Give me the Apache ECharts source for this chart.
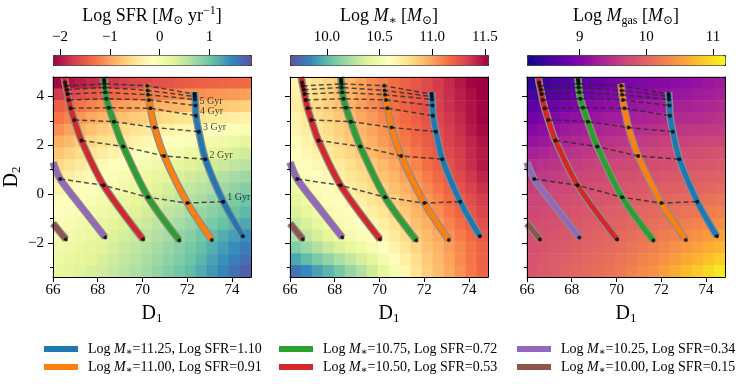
<!DOCTYPE html>
<html>
<head>
<meta charset="utf-8">
<title>tracks</title>
<script src="https://cdn.jsdelivr.net/npm/echarts@6/dist/echarts.min.js"></script>
<style>
  html, body { margin: 0; padding: 0; background: #fff; }
</style>
</head>
<body>
<div id="main" style="width:748px;height:384px;"></div>
<script>
// heatmap cell centres
var d1Cells = [66.25, 66.75, 67.25, 67.75, 68.25, 68.75, 69.25, 69.75, 70.25, 70.75, 71.25, 71.75, 72.25, 72.75, 73.25, 73.75, 74.25, 74.75];
var d2Cells = [-3.25, -2.75, -2.25, -1.75, -1.25, -0.75, -0.25, 0.25, 0.75, 1.25, 1.75, 2.25, 2.75, 3.25, 3.75, 4.25, 4.75];

// background fields, rows from top (D2 = 4.75) to bottom (D2 = -3.25)
var sfrMap = [
  [-2.09, -2.02, -1.95, -1.88, -1.82, -1.77, -1.72, -1.67, -1.63, -1.59, -1.55, -1.51, -1.48, -1.46, -1.43, -1.41, -1.39, -1.37],
  [-1.76, -1.68, -1.59, -1.51, -1.45, -1.40, -1.36, -1.31, -1.27, -1.24, -1.21, -1.18, -1.15, -1.13, -1.10, -1.08, -1.06, -1.04],
  [-1.48, -1.39, -1.30, -1.21, -1.14, -1.09, -1.04, -0.99, -0.95, -0.92, -0.89, -0.86, -0.83, -0.80, -0.77, -0.74, -0.72, -0.69],
  [-1.31, -1.20, -1.09, -0.98, -0.90, -0.84, -0.78, -0.72, -0.67, -0.62, -0.58, -0.53, -0.49, -0.46, -0.43, -0.40, -0.36, -0.33],
  [-1.13, -1.02, -0.91, -0.80, -0.71, -0.64, -0.57, -0.50, -0.44, -0.39, -0.34, -0.29, -0.24, -0.20, -0.16, -0.12, -0.08, -0.04],
  [-0.94, -0.84, -0.73, -0.63, -0.54, -0.47, -0.40, -0.33, -0.27, -0.22, -0.17, -0.12, -0.07, -0.02, 0.04, 0.09, 0.14, 0.19],
  [-0.76, -0.67, -0.57, -0.48, -0.39, -0.32, -0.25, -0.18, -0.11, -0.06, 0.00, 0.05, 0.11, 0.16, 0.22, 0.27, 0.33, 0.38],
  [-0.60, -0.51, -0.42, -0.33, -0.25, -0.18, -0.11, -0.04, 0.02, 0.08, 0.15, 0.21, 0.27, 0.33, 0.38, 0.44, 0.50, 0.56],
  [-0.44, -0.36, -0.28, -0.20, -0.13, -0.07, 0.00, 0.06, 0.12, 0.19, 0.25, 0.32, 0.38, 0.45, 0.52, 0.59, 0.65, 0.72],
  [-0.30, -0.24, -0.18, -0.12, -0.06, 0.00, 0.07, 0.13, 0.20, 0.27, 0.34, 0.41, 0.49, 0.56, 0.64, 0.71, 0.79, 0.86],
  [-0.19, -0.14, -0.09, -0.04, 0.02, 0.08, 0.15, 0.21, 0.28, 0.35, 0.43, 0.50, 0.58, 0.66, 0.75, 0.83, 0.91, 0.99],
  [-0.12, -0.07, -0.02, 0.03, 0.09, 0.15, 0.22, 0.28, 0.35, 0.42, 0.50, 0.57, 0.65, 0.74, 0.83, 0.92, 1.00, 1.09],
  [-0.06, -0.01, 0.05, 0.10, 0.16, 0.23, 0.29, 0.36, 0.43, 0.51, 0.58, 0.66, 0.75, 0.84, 0.94, 1.03, 1.13, 1.22],
  [0.00, 0.05, 0.10, 0.15, 0.22, 0.29, 0.36, 0.43, 0.50, 0.59, 0.67, 0.76, 0.85, 0.96, 1.07, 1.18, 1.28, 1.39],
  [0.06, 0.11, 0.16, 0.21, 0.27, 0.34, 0.42, 0.49, 0.57, 0.66, 0.75, 0.84, 0.94, 1.05, 1.17, 1.28, 1.40, 1.51],
  [0.11, 0.16, 0.21, 0.26, 0.33, 0.40, 0.47, 0.54, 0.63, 0.72, 0.81, 0.90, 1.00, 1.12, 1.25, 1.37, 1.49, 1.61],
  [0.17, 0.22, 0.28, 0.33, 0.39, 0.46, 0.53, 0.60, 0.68, 0.77, 0.87, 0.96, 1.07, 1.20, 1.33, 1.46, 1.58, 1.71]
];

var mstarMap = [
  [10.67, 10.72, 10.77, 10.82, 10.88, 10.94, 11.00, 11.06, 11.11, 11.15, 11.20, 11.24, 11.29, 11.35, 11.40, 11.46, 11.52, 11.53],
  [10.69, 10.74, 10.79, 10.84, 10.89, 10.95, 11.00, 11.06, 11.11, 11.15, 11.20, 11.24, 11.29, 11.34, 11.39, 11.44, 11.49, 11.53],
  [10.70, 10.75, 10.80, 10.85, 10.90, 10.95, 11.01, 11.06, 11.11, 11.15, 11.20, 11.24, 11.28, 11.33, 11.38, 11.43, 11.47, 11.52],
  [10.67, 10.72, 10.77, 10.82, 10.87, 10.92, 10.98, 11.03, 11.08, 11.12, 11.17, 11.21, 11.26, 11.31, 11.36, 11.41, 11.47, 11.52],
  [10.65, 10.70, 10.74, 10.79, 10.84, 10.89, 10.94, 10.99, 11.04, 11.09, 11.14, 11.19, 11.24, 11.29, 11.34, 11.39, 11.45, 11.50],
  [10.62, 10.67, 10.71, 10.76, 10.81, 10.86, 10.91, 10.96, 11.02, 11.07, 11.12, 11.17, 11.22, 11.27, 11.32, 11.37, 11.42, 11.47],
  [10.59, 10.63, 10.68, 10.72, 10.77, 10.82, 10.87, 10.92, 10.98, 11.03, 11.08, 11.13, 11.19, 11.24, 11.29, 11.34, 11.40, 11.45],
  [10.56, 10.60, 10.63, 10.67, 10.72, 10.77, 10.82, 10.87, 10.93, 10.98, 11.04, 11.09, 11.15, 11.21, 11.27, 11.33, 11.39, 11.45],
  [10.52, 10.56, 10.59, 10.63, 10.68, 10.73, 10.78, 10.83, 10.89, 10.94, 11.00, 11.05, 11.11, 11.17, 11.24, 11.30, 11.36, 11.42],
  [10.48, 10.52, 10.56, 10.60, 10.64, 10.69, 10.74, 10.79, 10.84, 10.90, 10.95, 11.01, 11.07, 11.13, 11.20, 11.26, 11.32, 11.38],
  [10.43, 10.47, 10.52, 10.56, 10.60, 10.65, 10.69, 10.74, 10.79, 10.85, 10.91, 10.97, 11.03, 11.09, 11.16, 11.22, 11.28, 11.34],
  [10.37, 10.42, 10.47, 10.52, 10.56, 10.60, 10.65, 10.69, 10.74, 10.81, 10.87, 10.94, 11.00, 11.06, 11.13, 11.19, 11.25, 11.31],
  [10.31, 10.36, 10.42, 10.47, 10.52, 10.56, 10.60, 10.64, 10.69, 10.76, 10.83, 10.90, 10.96, 11.02, 11.09, 11.15, 11.21, 11.27],
  [10.22, 10.29, 10.35, 10.42, 10.47, 10.51, 10.56, 10.60, 10.65, 10.72, 10.79, 10.86, 10.92, 10.98, 11.05, 11.11, 11.17, 11.23],
  [10.10, 10.17, 10.24, 10.31, 10.37, 10.42, 10.47, 10.52, 10.59, 10.67, 10.74, 10.82, 10.89, 10.95, 11.02, 11.08, 11.14, 11.20],
  [9.94, 10.01, 10.08, 10.15, 10.22, 10.29, 10.36, 10.43, 10.51, 10.60, 10.69, 10.78, 10.86, 10.93, 11.00, 11.07, 11.13, 11.20],
  [9.77, 9.84, 9.92, 9.99, 10.07, 10.16, 10.24, 10.33, 10.42, 10.53, 10.64, 10.75, 10.84, 10.91, 10.98, 11.05, 11.12, 11.19]
];

var mgasMap = [
  [8.37, 8.45, 8.54, 8.62, 8.69, 8.75, 8.81, 8.87, 8.92, 8.95, 8.98, 9.01, 9.04, 9.08, 9.11, 9.15, 9.19, 9.23],
  [8.53, 8.60, 8.68, 8.75, 8.82, 8.87, 8.93, 8.98, 9.03, 9.06, 9.09, 9.12, 9.15, 9.18, 9.21, 9.24, 9.28, 9.31],
  [8.70, 8.77, 8.84, 8.91, 8.97, 9.02, 9.07, 9.12, 9.15, 9.18, 9.21, 9.24, 9.26, 9.29, 9.31, 9.34, 9.36, 9.39],
  [8.86, 8.93, 9.00, 9.07, 9.12, 9.16, 9.21, 9.25, 9.28, 9.30, 9.33, 9.35, 9.37, 9.39, 9.41, 9.43, 9.45, 9.47],
  [9.02, 9.09, 9.15, 9.22, 9.27, 9.30, 9.34, 9.37, 9.40, 9.43, 9.45, 9.48, 9.50, 9.51, 9.53, 9.54, 9.56, 9.57],
  [9.16, 9.22, 9.29, 9.35, 9.40, 9.43, 9.46, 9.49, 9.52, 9.55, 9.58, 9.61, 9.63, 9.64, 9.66, 9.67, 9.69, 9.70],
  [9.30, 9.35, 9.41, 9.46, 9.51, 9.54, 9.57, 9.60, 9.62, 9.65, 9.67, 9.70, 9.72, 9.74, 9.76, 9.78, 9.80, 9.82],
  [9.42, 9.47, 9.51, 9.56, 9.60, 9.63, 9.66, 9.69, 9.71, 9.73, 9.75, 9.77, 9.79, 9.81, 9.83, 9.85, 9.87, 9.89],
  [9.52, 9.56, 9.60, 9.64, 9.67, 9.70, 9.73, 9.76, 9.78, 9.80, 9.82, 9.84, 9.86, 9.88, 9.91, 9.93, 9.95, 9.97],
  [9.61, 9.64, 9.68, 9.71, 9.74, 9.76, 9.79, 9.81, 9.83, 9.86, 9.88, 9.91, 9.93, 9.95, 9.98, 10.00, 10.02, 10.04],
  [9.67, 9.70, 9.73, 9.76, 9.79, 9.82, 9.84, 9.87, 9.89, 9.92, 9.94, 9.97, 10.00, 10.03, 10.06, 10.09, 10.12, 10.15],
  [9.71, 9.74, 9.77, 9.80, 9.83, 9.86, 9.89, 9.92, 9.95, 9.98, 10.01, 10.04, 10.07, 10.11, 10.14, 10.18, 10.22, 10.26],
  [9.75, 9.78, 9.81, 9.84, 9.87, 9.90, 9.93, 9.96, 9.99, 10.03, 10.06, 10.10, 10.14, 10.19, 10.24, 10.29, 10.33, 10.38],
  [9.78, 9.81, 9.84, 9.87, 9.90, 9.93, 9.97, 10.00, 10.04, 10.08, 10.13, 10.17, 10.22, 10.28, 10.35, 10.41, 10.47, 10.53],
  [9.81, 9.84, 9.87, 9.90, 9.94, 9.97, 10.01, 10.04, 10.09, 10.14, 10.19, 10.24, 10.31, 10.39, 10.46, 10.54, 10.62, 10.70],
  [9.83, 9.86, 9.90, 9.93, 9.97, 10.01, 10.05, 10.09, 10.14, 10.20, 10.27, 10.33, 10.41, 10.50, 10.60, 10.69, 10.79, 10.88],
  [9.85, 9.89, 9.92, 9.96, 10.00, 10.04, 10.09, 10.13, 10.19, 10.27, 10.34, 10.42, 10.52, 10.63, 10.74, 10.85, 10.96, 11.07]
];

// track positions at ages 0,1,2,... Gyr  [D1, D2]
var blueDots   = [[74.49, -1.73], [73.61, -0.31], [72.81, 1.43], [72.52, 2.56], [72.39, 3.21], [72.37, 3.63], [72.35, 3.88], [72.34, 4.00], [72.33, 4.10]];
var orangeDots = [[73.10, -1.88], [72.01, -0.37], [70.97, 1.56], [70.54, 2.73], [70.35, 3.52], [70.29, 3.86], [70.25, 4.07], [70.23, 4.25], [70.21, 4.44]];
var greenDots  = [[71.65, -1.90], [70.25, -0.13], [69.14, 1.95], [68.72, 2.97], [68.50, 3.54], [68.39, 3.91], [68.34, 4.17], [68.31, 4.37], [68.30, 4.52], [68.29, 4.62], [68.28, 4.71]];
var redDots    = [[70.03, -1.86], [68.26, 0.36], [67.27, 2.20], [66.95, 3.04], [66.79, 3.52], [66.70, 3.86], [66.65, 4.10], [66.61, 4.28], [66.57, 4.43], [66.54, 4.57]];
var purpleDots = [[68.34, -1.78], [66.32, 0.62]];
var brownDots  = [[66.58, -1.86]];

// where the tracks run on past their last dot (to the frame edge)
var blueTail   = [[72.33, 4.18]];
var orangeTail = [[70.19, 4.53]];
var greenTail  = [[68.27, 4.80]];
var redTail    = [[66.51, 4.80]];
var purpleMid  = [[67.35, -0.62]];
var purpleTail = [[66.00, 1.30]];
var brownTail  = [[66.00, -1.20]];

var trackNames = [
  'Log M*=11.25, Log SFR=1.10',
  'Log M*=11.00, Log SFR=0.91',
  'Log M*=10.75, Log SFR=0.72',
  'Log M*=10.50, Log SFR=0.53',
  'Log M*=10.25, Log SFR=0.34',
  'Log M*=10.00, Log SFR=0.15'
];
var trackColors = ['#1f77b4', '#ff7f0e', '#2ca02c', '#d62728', '#9467bd', '#8c564b'];
var labelAges = [1, 2, 3, 4, 5];

var xTicks = [66, 68, 70, 72, 74];
var yTicks = [-2, 0, 2, 4];
var yMinor = [-3, -1, 1, 3];
var sfrTicks = [-2, -1, 0, 1];
var mstarTicks = [10.0, 10.5, 11.0, 11.5];
var mgasTicks = [9, 10, 11];

var spectral = ['#9e0142', '#d53e4f', '#f46d43', '#fdae61', '#fee08b', '#ffffbf', '#e6f598', '#abdda4', '#66c2a5', '#3288bd', '#5e4fa2'];
var plasma = ['#0d0887', '#41049d', '#6a00a8', '#8f0da4', '#b12a90', '#cc4778', '#e16462', '#f2844b', '#fca636', '#fcce25', '#f0f921'];

var serif = '"Liberation Serif", "DejaVu Serif", serif';
function minus(v) { return v < 0 ? '\u2212' + Math.abs(v) : String(v); }

var panels = [
  { map: sfrMap, min: -2.14, max: 1.83, colors: spectral, ticks: sfrTicks, fmt: minus,
    title: 'Log SFR [{i|M}{sub|\u2299} yr{sup|\u22121}]' },
  { map: mstarMap, min: 9.65, max: 11.53, colors: spectral.slice().reverse(), ticks: mstarTicks,
    fmt: function (v) { return v.toFixed(1); },
    title: 'Log {i|M}{sub|\u2217} [{i|M}{sub|\u2299}]' },
  { map: mgasMap, min: 8.21, max: 11.18, colors: plasma, ticks: mgasTicks, fmt: minus,
    title: 'Log {i|M}{sub|gas} [{i|M}{sub|\u2299}]' }
];
var lefts = [53, 290, 527];
var W = 198, TOP = 77, H = 200;

var richSub = {
  i: { fontFamily: serif, fontStyle: 'italic', fontSize: 18, color: '#000' },
  sub: { fontFamily: serif, fontSize: 12, padding: [10, 0, 0, 0], color: '#000' },
  sup: { fontFamily: serif, fontSize: 12, padding: [0, 0, 10, 0], color: '#000' }
};

var grids = [], xAxes = [], yAxes = [], series = [], visualMaps = [], graphics = [];

panels.forEach(function (p, k) {
  grids.push({ left: lefts[k], top: TOP, width: W, height: H });
});
panels.forEach(function (p, k) {
  grids.push({ left: lefts[k], top: 55, width: W, height: 10 });
});

panels.forEach(function (p, k) {
  var tick = { show: true, length: 5, lineStyle: { color: '#000', width: 1 } };
  xAxes.push({
    type: 'value', gridIndex: k, position: 'bottom', min: 66, max: 74.85, z: 5,
    axisLine: { show: true, onZero: false, lineStyle: { color: '#000', width: 1 } },
    axisTick: Object.assign({ customValues: xTicks }, tick),
    axisLabel: { customValues: xTicks, margin: 6, fontSize: 15, fontFamily: serif, color: '#000' },
    splitLine: { show: false },
    name: '{d|D}{s|1}', nameLocation: 'middle', nameGap: 25,
    nameTextStyle: { rich: {
      d: { fontFamily: serif, fontSize: 20, color: '#000' },
      s: { fontFamily: serif, fontSize: 13, padding: [10, 0, 0, 0], color: '#000' } } }
  });
  xAxes.push({
    type: 'category', gridIndex: k, position: 'top', data: d1Cells, z: 5,
    axisLine: { show: true, onZero: false, lineStyle: { color: '#000', width: 1 } },
    axisTick: { show: false }, axisLabel: { show: false }, splitLine: { show: false }
  });
  var yMain = {
    type: 'value', gridIndex: k, position: 'left', min: -3.4, max: 4.8, z: 5,
    axisLine: { show: true, onZero: false, lineStyle: { color: '#000', width: 1 } },
    axisTick: Object.assign({ customValues: yTicks }, tick),
    axisLabel: { show: k === 0, customValues: yTicks, formatter: minus, margin: 9,
      fontSize: 15, fontFamily: serif, color: '#000' },
    splitLine: { show: false }
  };
  if (k === 0) {
    yMain.name = '{d|D}{s|2}';
    yMain.nameLocation = 'middle';
    yMain.nameGap = 30;
    yMain.nameTextStyle = { rich: {
      d: { fontFamily: serif, fontSize: 20, color: '#000' },
      s: { fontFamily: serif, fontSize: 13, padding: [10, 0, 0, 0], color: '#000' } } };
  }
  yAxes.push(yMain);
  yAxes.push({
    type: 'value', gridIndex: k, position: 'left', min: -3.4, max: 4.8, z: 5,
    axisLine: { show: false, onZero: false },
    axisTick: { show: true, customValues: yMinor, length: 3, lineStyle: { color: '#000', width: 1 } },
    axisLabel: { show: false }, splitLine: { show: false }
  });
  yAxes.push({
    type: 'category', gridIndex: k, position: 'right', data: d2Cells, z: 5,
    axisLine: { show: true, onZero: false, lineStyle: { color: '#000', width: 1 } },
    axisTick: { show: false }, axisLabel: { show: false }, splitLine: { show: false }
  });
});

// colorbar tick axes
panels.forEach(function (p, k) {
  xAxes.push({
    type: 'value', gridIndex: 3 + k, position: 'top', min: p.min, max: p.max,
    axisLine: { show: false, onZero: false },
    axisTick: { show: true, customValues: p.ticks, length: 6, lineStyle: { color: '#000', width: 1 } },
    axisLabel: { customValues: p.ticks, formatter: p.fmt, margin: 10, fontSize: 15, fontFamily: serif, color: '#000' },
    splitLine: { show: false }
  });
  yAxes.push({ type: 'value', gridIndex: 3 + k, show: false });
});

panels.forEach(function (p, k) {
  var xv = 2 * k, xc = 2 * k + 1, yv = 3 * k, yc = 3 * k + 2;
  var cells = [];
  p.map.forEach(function (row, r) {
    row.forEach(function (v, c) { cells.push([c, d2Cells.length - 1 - r, v]); });
  });
  visualMaps.push({
    type: 'continuous', seriesIndex: series.length, min: p.min, max: p.max,
    inRange: { color: p.colors }, orient: 'horizontal', left: lefts[k], top: 55,
    itemWidth: 10, itemHeight: W, calculable: false, hoverLink: false, padding: 0,
    borderColor: '#222', borderWidth: 1
  });
  series.push({
    type: 'heatmap', xAxisIndex: xc, yAxisIndex: yc, data: cells, z: 1,
    silent: true, progressive: 0, emphasis: { disabled: true }
  });

  var tracks = [
    blueDots.concat(blueTail),
    orangeDots.concat(orangeTail),
    greenDots.concat(greenTail),
    redDots.concat(redTail),
    [purpleDots[0]].concat(purpleMid, [purpleDots[1]], purpleTail),
    brownDots.concat(brownTail)
  ];
  tracks.forEach(function (t) {
    series.push({
      type: 'line', xAxisIndex: xv, yAxisIndex: yv, data: t, smooth: 0.3, symbol: 'none',
      z: 2, silent: true, lineStyle: { color: '#8c8c8c', width: 7.5, cap: 'butt', join: 'round' }
    });
  });
  tracks.forEach(function (t, i) {
    series.push({
      name: trackNames[i], type: 'line', xAxisIndex: xv, yAxisIndex: yv, data: t, smooth: 0.3,
      symbol: 'none', z: 3, silent: true,
      itemStyle: { color: trackColors[i] },
      lineStyle: { color: trackColors[i], width: 5, cap: 'butt', join: 'round' }
    });
  });

  for (var a = 1; a <= 8; a++) {
    var pts = [];
    if (a === 1) pts.push(purpleDots[1]);
    pts.push(redDots[a], greenDots[a], orangeDots[a], blueDots[a]);
    series.push({
      type: 'line', xAxisIndex: xv, yAxisIndex: yv, data: pts, symbol: 'none', z: 4, silent: true,
      lineStyle: { color: '#2b2b2b', opacity: 0.8, width: 1.5, type: [5, 3] }
    });
  }

  var dots = [].concat(blueDots, orangeDots, greenDots, redDots, purpleDots, brownDots);
  series.push({
    type: 'scatter', xAxisIndex: xv, yAxisIndex: yv, data: dots, symbol: 'circle',
    symbolSize: 4, z: 5, silent: true, itemStyle: { color: '#000' }
  });

  if (k === 0) {
    series.push({
      type: 'scatter', xAxisIndex: xv, yAxisIndex: yv, z: 6, silent: true,
      data: labelAges.map(function (g) { return { value: blueDots[g], age: g }; }),
      symbolSize: 0.1, itemStyle: { color: 'rgba(0,0,0,0)' },
      label: { show: true, position: 'right', distance: 4, offset: [0, -4],
        fontFamily: serif, fontSize: 10, color: '#111',
        formatter: function (d) { return d.data.age + ' Gyr'; } }
    });
  }

  graphics.push({
    type: 'text', x: lefts[k] + W / 2, y: 16,
    style: { text: p.title, fontFamily: serif, fontSize: 18, fill: '#000',
      align: 'center', verticalAlign: 'middle', rich: richSub }
  });
});

var legendRich = {
  i: { fontFamily: serif, fontStyle: 'italic', fontSize: 14, color: '#000' },
  s: { fontFamily: serif, fontSize: 10, padding: [6, 0, 0, 0], color: '#000' }
};
var legendCols = [[0, 1], [2, 3], [4, 5]];
var legendLefts = [36, 271, 509];
var legends = legendCols.map(function (col, j) {
  return {
    data: col.map(function (i) { return trackNames[i]; }),
    orient: 'vertical', left: legendLefts[j], top: 337,
    itemWidth: 34, itemHeight: 7, itemGap: 3, selectedMode: false,
    lineStyle: { width: 6, cap: 'butt' },
    textStyle: { fontFamily: serif, fontSize: 14, color: '#000', padding: [0, 0, 0, 5], rich: legendRich },
    formatter: function (name) { return name.replace('M*', '{i|M}{s|\u2217}'); }
  };
});

var myChart = echarts.init(document.getElementById('main'));
var option = {
  animation: false,
  backgroundColor: '#fff',
  grid: grids,
  xAxis: xAxes,
  yAxis: yAxes,
  visualMap: visualMaps,
  legend: legends,
  graphic: graphics,
  series: series
};
myChart.setOption(option);
</script>
</body>
</html>
